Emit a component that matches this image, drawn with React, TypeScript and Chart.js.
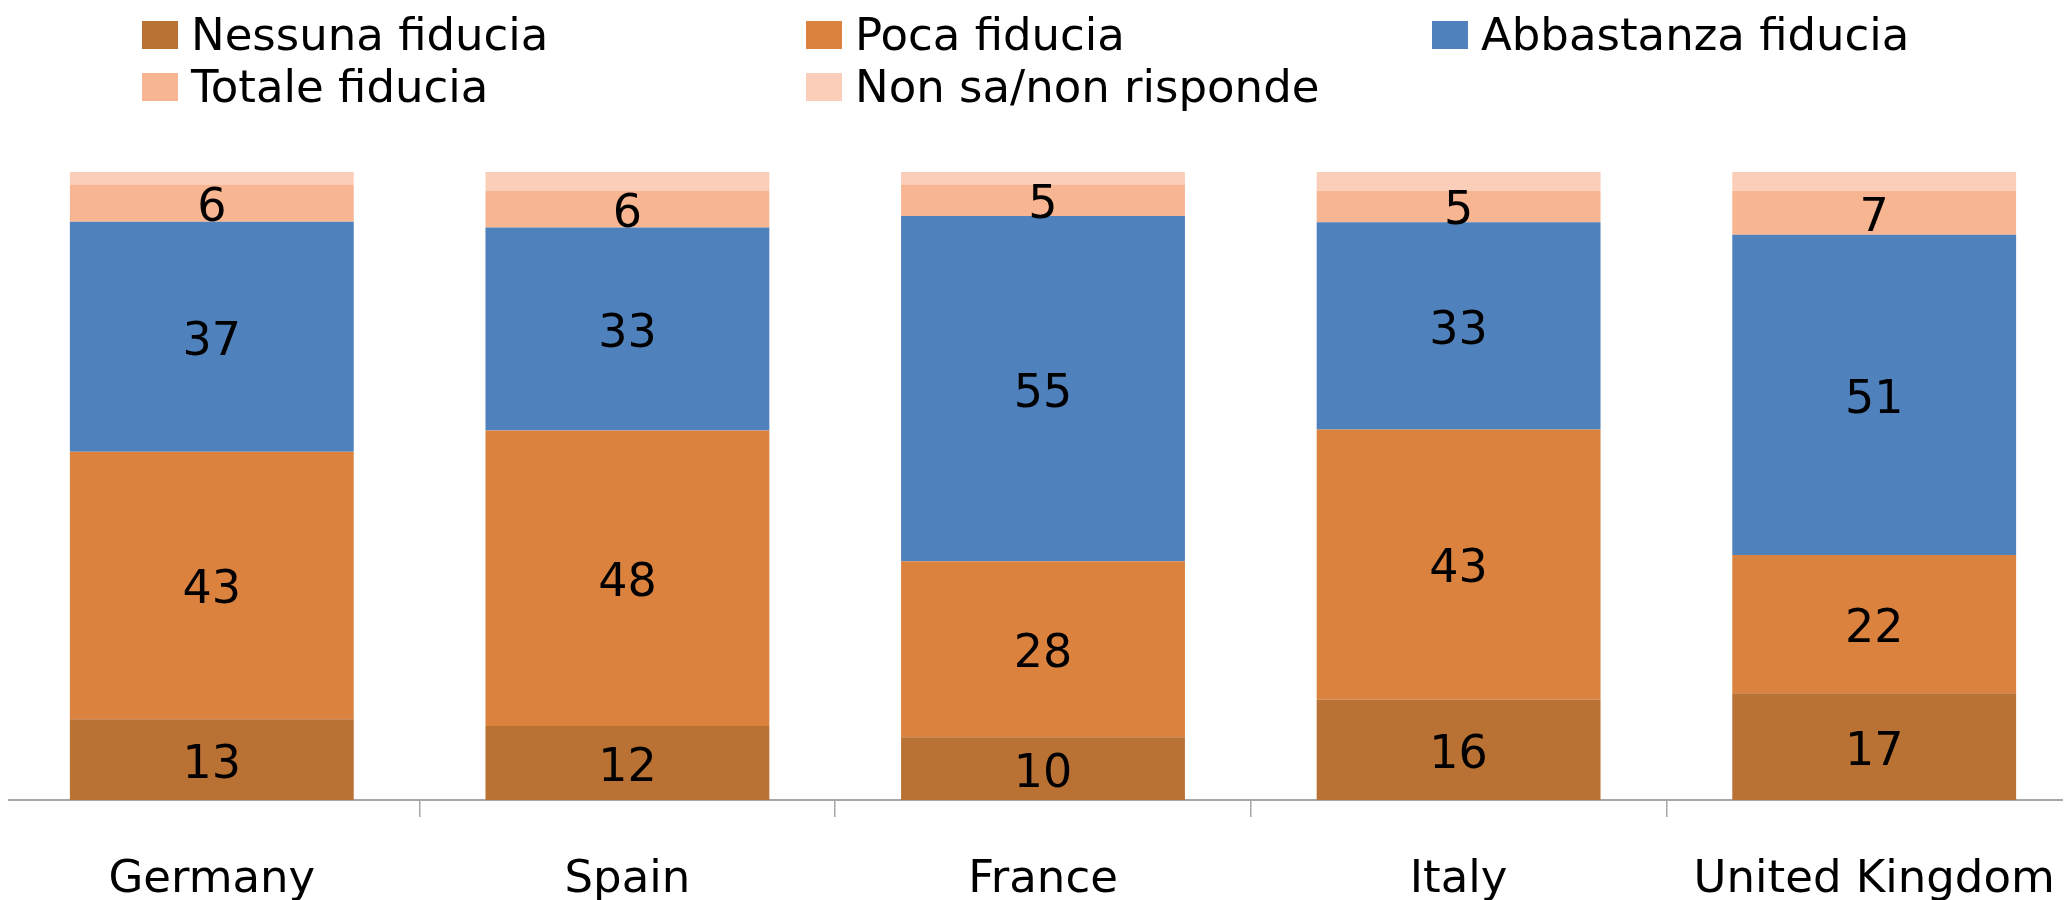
import React, { useEffect, useRef } from "react";
import { Chart, registerables } from "chart.js";

Chart.register(...registerables);

const categories = ["Germany", "Spain", "France", "Italy", "United Kingdom"];
const seriesNames = ["Nessuna fiducia", "Poca fiducia", "Abbastanza fiducia", "Totale fiducia", "Non sa/non risponde"];
const nessuna = [13, 12, 10, 16, 17];
const poca = [43, 48, 28, 43, 22];
const abbastanza = [37, 33, 55, 33, 51];
const totale = [6, 6, 5, 5, 7];
const nonSa = [2, 3, 2, 3, 3];
const colors = ["#BA7134", "#DB823F", "#4F81BD", "#F8B592", "#FBCEBA"];
const showLabel = [true, true, true, true, false];

const FONT = "'DejaVu Sans', sans-serif";

export default function App() {
  const ref = useRef<HTMLCanvasElement | null>(null);

  useEffect(() => {
    document.body.style.overflow = "hidden";
    const raw = [nessuna, poca, abbastanza, totale, nonSa];
    const totals = categories.map((_, i) => raw.reduce((s, arr) => s + arr[i], 0));
    const labelPlugin = {
      id: "segLabels",
      afterDatasetsDraw(chart: any) {
        const ctx = chart.ctx;
        ctx.save();
        ctx.font = `46px ${FONT}`;
        ctx.fillStyle = "#000";
        ctx.textAlign = "center";
        ctx.textBaseline = "middle";
        chart.data.datasets.forEach((ds: any, di: number) => {
          if (!showLabel[di]) return;
          const meta = chart.getDatasetMeta(di);
          meta.data.forEach((el: any, i: number) => {
            const y = (el.y + el.base) / 2;
            ctx.fillText(String(raw[di][i]), el.x, y + 6);
          });
        });
        ctx.restore();
      },
    };
    const chart = new Chart(ref.current!, {
      type: "bar",
      data: {
        labels: categories,
        datasets: raw.map((arr, di) => ({
          label: seriesNames[di],
          data: arr.map((v, i) => (v / totals[i]) * 100),
          backgroundColor: colors[di],
          borderWidth: 0,
          barPercentage: 0.683,
          categoryPercentage: 1,
        })),
      },
      options: {
        responsive: false,
        animation: false,
        layout: { padding: { left: 4, right: 0, top: 164, bottom: 0 } },
        plugins: { legend: { display: false }, tooltip: { enabled: false } },
        scales: {
          x: {
            stacked: true,
            offset: true,
            border: { display: true, color: "#A6A6A6", width: 2 },
            grid: { display: true, drawOnChartArea: false, drawTicks: true, tickLength: 17, color: "#A6A6A6", offset: true, lineWidth: 1.5 },
            ticks: { color: "#000", font: { family: FONT, size: 45 }, padding: 36, maxRotation: 0, autoSkip: false },
            afterFit: (axis: any) => {
              axis.height = 100;
              axis.paddingLeft = 0;
              axis.paddingRight = 0;
            },
          },
          y: { stacked: true, display: false, min: 0, max: 100 },
        },
      },
      plugins: [labelPlugin],
    });
    return () => chart.destroy();
  }, []);

  const legendX = [134, 798, 1424];
  const legendPos = [
    [0, 0], [1, 0], [2, 0], [0, 1], [1, 1],
  ];

  return (
    <div style={{ position: "relative", width: 2063, height: 892, overflow: "hidden", fontFamily: FONT }}>
      <canvas ref={ref} width={2082} height={892} style={{ position: "absolute", left: -8, top: 0, width: 2082, height: 892 }} />
      {seriesNames.map((name, i) => (
        <div
          key={name}
          style={{
            position: "absolute",
            left: legendX[legendPos[i][0]],
            top: legendPos[i][1] * 52,
            height: 53,
            display: "flex",
            alignItems: "center",
            whiteSpace: "nowrap",
          }}
        >
          <span style={{ display: "inline-block", width: 36, height: 28, background: colors[i], marginRight: 13 }} />
          <span style={{ fontSize: 45, color: "#000", lineHeight: "53px" }}>{name}</span>
        </div>
      ))}
    </div>
  );
}
